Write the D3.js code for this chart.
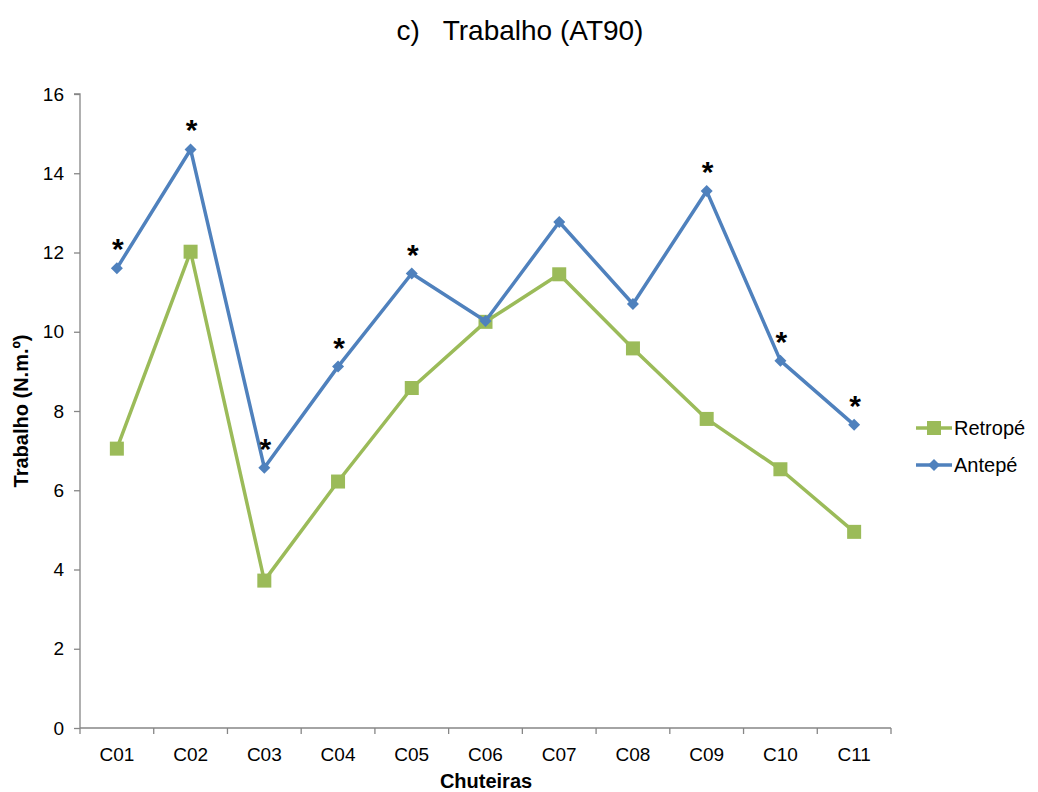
<!DOCTYPE html>
<html><head><meta charset="utf-8">
<script src="https://cdn.jsdelivr.net/npm/d3@7"></script>
<style>body{margin:0;background:#fff}svg{display:block;font-family:"Liberation Sans",Arial,sans-serif}</style>
</head><body><svg id="c" width="1038" height="792"></svg>
<script>
const categories = ["C01","C02","C03","C04","C05","C06","C07","C08","C09","C10","C11"];
const retrope = [7.05,12.02,3.72,6.22,8.58,10.25,11.45,9.58,7.80,6.53,4.95];
const antepe  = [11.60,14.60,6.57,9.12,11.47,10.27,12.77,10.70,13.55,9.27,7.65];
const significant = ["C01","C02","C03","C04","C05","C09","C10","C11"];
const yTicks = [0,2,4,6,8,10,12,14,16];
const seriesNames = ["Retropé","Antepé"];

const svg = d3.select("#c");
const L=80,R=891,T=94,B=728;
const x = d3.scaleBand().domain(categories).range([L,R]);
const y = d3.scaleLinear().domain([0,16]).range([B,T]);
const axisCol="#868686";

// y axis
const ya = svg.append("g").attr("transform",`translate(${L},0)`)
  .call(d3.axisLeft(y).tickValues(yTicks).tickSize(6).tickPadding(10).tickFormat(d3.format("d")));
ya.select(".domain").attr("stroke",axisCol).attr("stroke-width",1.3).attr("d",`M-6,${T}H0V${B}`);
ya.selectAll(".tick line").attr("stroke",axisCol).attr("stroke-width",1.3);
ya.selectAll("text").attr("font-size",19).attr("fill","#000").attr("font-family","Liberation Sans, Arial");

// x axis
const xa = svg.append("g").attr("transform",`translate(0,${B})`);
xa.append("line").attr("x1",L).attr("x2",R).attr("stroke",axisCol).attr("stroke-width",1.3);
const bounds = categories.map(c=>x(c)).concat([R]);
xa.selectAll("line.t").data(bounds).join("line").attr("class","t")
  .attr("x1",d=>d).attr("x2",d=>d).attr("y1",0).attr("y2",6).attr("stroke",axisCol).attr("stroke-width",1.3);
xa.selectAll("text").data(categories).join("text")
  .attr("x",d=>x(d)+x.bandwidth()/2).attr("y",33).attr("text-anchor","middle")
  .attr("font-size",19).text(d=>d);

const cx = d=>x(d)+x.bandwidth()/2;
const line = d3.line().x((d,i)=>cx(categories[i])).y(d=>y(d));

// Retropé
svg.append("path").datum(retrope).attr("d",line).attr("fill","none").attr("stroke","#9BBB59").attr("stroke-width",3.5).attr("stroke-linejoin","round");
svg.selectAll("rect.r").data(retrope).join("rect").attr("class","r")
  .attr("x",(d,i)=>cx(categories[i])-7).attr("y",d=>y(d)-7).attr("width",14).attr("height",14).attr("fill","#9BBB59");

// Antepé
svg.append("path").datum(antepe).attr("d",line).attr("fill","none").attr("stroke","#4F81BD").attr("stroke-width",3.5).attr("stroke-linejoin","round");
svg.selectAll("path.a").data(antepe).join("path").attr("class","a")
  .attr("transform",(d,i)=>`translate(${cx(categories[i])},${y(d)})`)
  .attr("d","M0,-6L6,0L0,6L-6,0Z").attr("fill","#4F81BD");

// asterisks
svg.selectAll("text.s").data(categories.map((c,i)=>({c,v:antepe[i]})).filter(d=>significant.includes(d.c)))
  .join("text").attr("class","s").attr("x",d=>cx(d.c)+1).attr("y",d=>y(d.v)-9)
  .attr("text-anchor","middle").attr("font-size",30).attr("font-weight","bold").text("*");

// title
svg.append("text").attr("x",520).attr("y",40).attr("text-anchor","middle").attr("font-size",28)
  .attr("xml:space","preserve").text("c)   Trabalho (AT90)");

// axis titles
svg.append("text").attr("transform",`translate(28,411) rotate(-90)`).attr("text-anchor","middle")
  .attr("font-size",20).attr("font-weight","bold").text("Trabalho (N.m.º)");
svg.append("text").attr("x",486).attr("y",788).attr("text-anchor","middle")
  .attr("font-size",20).attr("font-weight","bold").text("Chuteiras");

// legend
const lg = svg.append("g");
const legendY=[428,465], legendCol=["#9BBB59","#4F81BD"];
seriesNames.forEach((n,i)=>{
  const g=lg.append("g").attr("transform",`translate(916,${legendY[i]})`);
  g.append("line").attr("x1",0).attr("x2",36).attr("stroke",legendCol[i]).attr("stroke-width",3.5);
  if(i===0) g.append("rect").attr("x",11).attr("y",-7).attr("width",14).attr("height",14).attr("fill",legendCol[i]);
  else g.append("path").attr("transform","translate(18,0)").attr("d","M0,-6L6,0L0,6L-6,0Z").attr("fill",legendCol[i]);
  g.append("text").attr("x",38).attr("y",7).attr("font-size",20).text(n);
});
</script></body></html>
